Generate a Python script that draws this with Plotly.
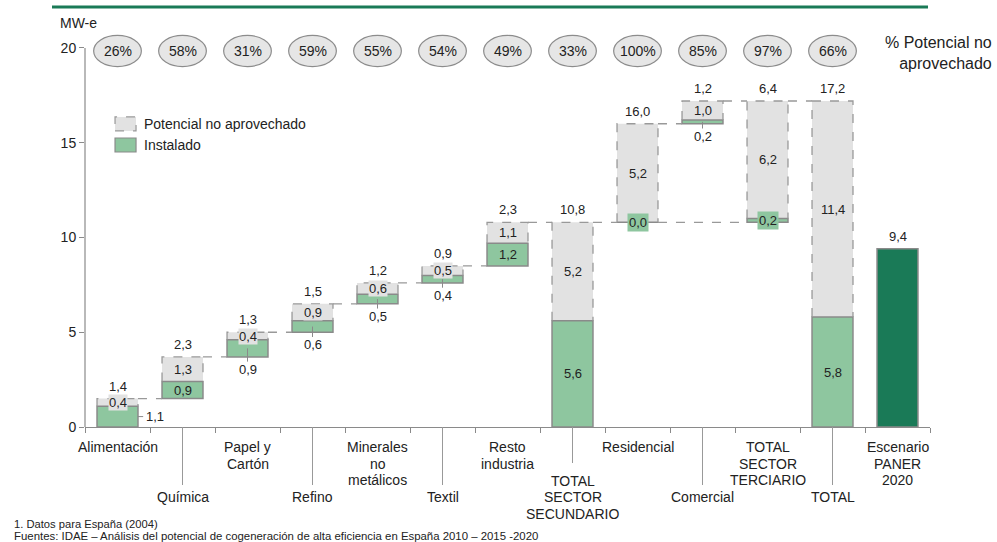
import plotly.graph_objects as go

# ---------------- data ----------------
categories = ["Alimentación", "Química", "Papel y<br>Cartón", "Refino",
              "Minerales<br>no<br>metálicos", "Textil", "Resto<br>industria",
              "TOTAL<br>SECTOR<br>SECUNDARIO", "Residencial", "Comercial",
              "TOTAL<br>SECTOR<br>TERCIARIO", "TOTAL", "Escenario<br>PANER<br>2020"]
installed = [1.1, 0.9, 0.9, 0.6, 0.5, 0.4, 1.2, 5.6, 0.0, 0.2, 0.2, 5.8]
unexploited = [0.4, 1.3, 0.4, 0.9, 0.6, 0.5, 1.1, 5.2, 5.2, 1.0, 6.2, 11.4]
top_labels = ["1,4", "2,3", "1,3", "1,5", "1,2", "0,9", "2,3", "10,8",
              "16,0", "1,2", "6,4", "17,2"]
pct_unexploited = ["26%", "58%", "31%", "59%", "55%", "54%", "49%", "33%",
                   "100%", "85%", "97%", "66%"]
paner_2020 = 9.4
# bar role in the waterfall
kinds = ["step"] * 7 + ["group_total"] + ["step", "step"] + ["group_total", "grand_total"]

# ---------------- layout config ----------------
FONT = "Liberation Sans, Arial, sans-serif"
TXT = "#222222"
GREEN = "#8ec69f"
DKGREEN = "#1a7a57"
GREY = "#e2e2e2"
EDGE = "#8a8a8a"
DASH = "#999999"
W = 0.63
inst_pos = ["right", "inside", "below", "below", "below", "below", "inside",
            "inside", "boxed", "below", "boxed", "inside"]

# compute bases
bases = []
cum = 0.0
group_start = 0.0
for i, k in enumerate(kinds):
    if k == "step":
        bases.append(cum)
        cum += installed[i] + unexploited[i]
    elif k == "group_total":
        bases.append(group_start)
        group_start = cum
    else:
        bases.append(0.0)
tops = [bases[i] + installed[i] + unexploited[i] for i in range(12)]

idx = list(range(12))
fig = go.Figure()
fig.add_trace(go.Bar(x=idx, y=unexploited, base=[bases[i] + installed[i] for i in idx],
                     width=W, marker=dict(color=GREY, line=dict(width=0)),
                     showlegend=False, hoverinfo="skip"))
fig.add_trace(go.Bar(x=idx, y=installed, base=bases, width=W,
                     marker=dict(color=GREEN, line=dict(color=EDGE, width=1.5)),
                     showlegend=False, hoverinfo="skip"))
fig.add_trace(go.Bar(x=[12], y=[paner_2020], width=W,
                     marker=dict(color=DKGREEN, line=dict(color=EDGE, width=1.5)),
                     showlegend=False, hoverinfo="skip"))

shapes = []
ann = []
h = W / 2
# dashed outlines of unexploited segments
for i in idx:
    y0 = bases[i] + installed[i]
    y1 = tops[i]
    shapes.append(dict(type="path", xref="x", yref="y",
                       path=f"M {i-h},{y0} L {i-h},{y1} L {i+h},{y1} L {i+h},{y0}",
                       line=dict(color=DASH, width=1.3, dash="dash")))

# connectors
def conn(a, b, y):
    shapes.append(dict(type="line", xref="x", yref="y", x0=a + h, x1=b - h, y0=y, y1=y,
                       line=dict(color=DASH, width=1.3, dash="dash")))
for i in range(6):
    conn(i, i + 1, tops[i])
conn(6, 7, tops[6])
conn(7, 8, tops[7])
conn(8, 10, bases[8])
conn(8, 9, tops[8])
conn(9, 10, tops[9])
conn(10, 11, tops[10])

def a(x, y, text, **kw):
    d = dict(x=x, y=y, xref="x", yref="y", text=text, showarrow=False,
             xanchor="center", yanchor="middle",
             font=dict(family=FONT, size=13, color=TXT))
    d.update(kw)
    ann.append(d)

# labels
for i in idx:
    a(i, tops[i], top_labels[i], yanchor="bottom", yshift=3)
    a(i, bases[i] + installed[i] + unexploited[i] / 2, f"{unexploited[i]:.1f}".replace(".", ","),
      bgcolor=GREY, borderpad=0)
    lab = f"{installed[i]:.1f}".replace(".", ",")
    p = inst_pos[i]
    mid = bases[i] + installed[i] / 2
    if p == "inside":
        a(i, mid, lab)
    elif p == "boxed":
        a(i, mid, lab, bgcolor=GREEN, borderpad=1)
    elif p == "below":
        a(i, bases[i], lab, yanchor="top", yshift=-3)
        shapes.append(dict(type="line", xref="x", yref="y", x0=i, x1=i, y0=mid,
                           y1=bases[i] - 0.25, line=dict(color=EDGE, width=1)))
    elif p == "right":
        a(i + h + 0.09, mid, lab, xanchor="left")
        shapes.append(dict(type="line", xref="x", yref="y", x0=i + h, x1=i + h + 0.08,
                           y0=mid, y1=mid, line=dict(color=EDGE, width=1)))
a(12, paner_2020, f"{paner_2020:.1f}".replace(".", ","), yanchor="bottom", yshift=3)

# percentage ellipses
for i in idx:
    shapes.append(dict(type="circle", xref="x", yref="y", x0=i - 0.367, x1=i + 0.367,
                       y0=19.02, y1=20.66, fillcolor="#e6e6e6",
                       line=dict(color="#8c8c8c", width=1.2)))
    a(i, 19.84, pct_unexploited[i], font=dict(family=FONT, size=14, color=TXT))

# legend (manual)
shapes.append(dict(type="rect", xref="x", yref="y", x0=-0.038, x1=0.285, y0=15.62, y1=16.36,
                   fillcolor=GREY, line=dict(color=DASH, width=1.2, dash="dash")))
shapes.append(dict(type="rect", xref="x", yref="y", x0=-0.038, x1=0.285, y0=14.51, y1=15.25,
                   fillcolor=GREEN, line=dict(color=EDGE, width=1.2)))
a(0.377, 15.99, "Potencial no aprovechado", xanchor="left", font=dict(family=FONT, size=14, color=TXT))
a(0.377, 14.86, "Instalado", xanchor="left", font=dict(family=FONT, size=14, color=TXT))

# axes helpers in paper coords
X0, X1, YB, YT = 85, 930, 427, 29
def px(xp):
    return (xp - X0) / (X1 - X0)
def py(yp):
    return (YB - yp) / (YB - YT)

# y axis line 0..20
shapes.append(dict(type="line", xref="paper", yref="paper", x0=0, x1=0, y0=0, y1=20 / 21,
                   line=dict(color=EDGE, width=1.2)))
# top green rule
shapes.append(dict(type="line", xref="paper", yref="paper", x0=px(52), x1=px(928),
                   y0=py(7), y1=py(7), line=dict(color=DKGREEN, width=3)))

def pa(x, y, text, **kw):
    d = dict(x=x, y=y, xref="paper", yref="paper", text=text, showarrow=False,
             xanchor="center", yanchor="middle",
             font=dict(family=FONT, size=14, color=TXT))
    d.update(kw)
    ann.append(d)

# category labels (one annotation per line for tighter line spacing)
LS = 16.7
for i, c in enumerate(categories):
    xp = (i + 0.5) / 13
    lines = c.split("<br>")
    if i % 2 == 0:
        first = 447
    else:
        first = 497 if len(lines) == 1 else 480.5
        lower = 463 if len(lines) > 1 else 485
        shapes.append(dict(type="line", xref="paper", yref="paper", x0=xp, x1=xp,
                           y0=0, y1=py(lower), line=dict(color="#999999", width=1)))
    for k, ln in enumerate(lines):
        pa(xp, py(first + k * LS), ln)

pa(px(58), py(23), "MW-e", xanchor="left")
pa(px(994), py(53), "% Potencial no<br>aprovechado", xanchor="right", align="right",
   font=dict(family=FONT, size=16, color=TXT))
pa(px(12), py(524), "1. Datos para España (2004)", xanchor="left",
   font=dict(family=FONT, size=11.2, color=TXT))
pa(px(12), py(536),
   "Fuentes: IDAE – Análisis del potencial de cogeneración de alta eficiencia en España 2010 – 2015 -2020",
   xanchor="left", font=dict(family=FONT, size=11.4, color=TXT))

fig.update_layout(
    width=997, height=542, margin=dict(l=85, r=997 - 930, t=29, b=542 - 427),
    paper_bgcolor="white", plot_bgcolor="white", barmode="overlay",
    shapes=shapes, annotations=ann, showlegend=False,
    font=dict(family=FONT, color=TXT),
    xaxis=dict(range=[-0.5, 12.5], showgrid=False, zeroline=False, showline=True,
               linecolor=EDGE, linewidth=1.2, tickmode="array",
               tickvals=[i - 0.5 for i in range(14)], ticks="outside", ticklen=5,
               tickcolor=EDGE, showticklabels=False, fixedrange=True),
    yaxis=dict(range=[0, 21], showgrid=False, zeroline=False, showline=False,
               tickvals=[0, 5, 10, 15, 20], ticks="outside", ticklen=5, tickcolor=EDGE,
               tickfont=dict(family=FONT, size=14, color=TXT), fixedrange=True),
)
fig.write_html("out.html")
